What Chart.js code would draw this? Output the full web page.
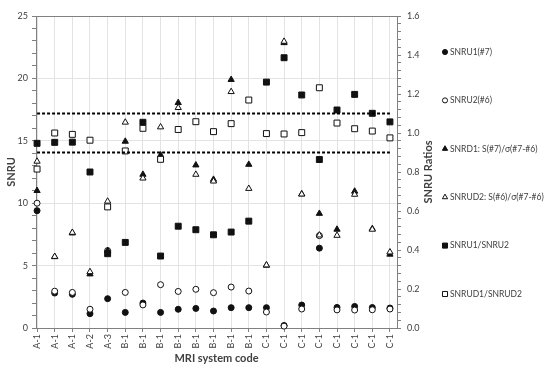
<!DOCTYPE html>
<html>
<head>
<meta charset="utf-8">
<script src="https://cdn.jsdelivr.net/npm/chart.js@4.4.1/dist/chart.umd.min.js"></script>
<style>
  html, body { margin: 0; padding: 0; background: #fff; }
  #wrap { width: 550px; height: 369px; }
</style>
</head>
<body>
<div id="wrap"><canvas id="snruChart" width="550" height="369"></canvas></div>
<script>
const categories = ['A-1', 'A-1', 'A-1', 'A-2', 'A-3',
  'B-1', 'B-1', 'B-1', 'B-1', 'B-1', 'B-1', 'B-1', 'B-1',
  'C-1', 'C-1', 'C-1', 'C-1', 'C-1', 'C-1', 'C-1', 'C-1'];

// left axis (SNRU)
const snru1 = [9.4, 2.8, 2.7, 1.15, 2.35, 1.25, 2.0, 1.25, 1.5, 1.57, 1.36, 1.63, 1.63, 1.63, 0.2, 1.84, 6.4, 1.65, 1.73, 1.64, 1.6];
const snru2 = [10.0, 2.95, 2.85, 1.5, 6.2, 2.85, 1.85, 3.47, 2.93, 3.1, 2.83, 3.28, 2.96, 1.28, 0.15, 1.52, 7.4, 1.45, 1.44, 1.46, 1.52];
const snrd1 = [11.0, 5.7, 7.6, 4.32, 6.2, 14.95, 12.3, 13.85, 18.05, 13.05, 11.9, 19.9, 13.1, 5.02, 22.85, 10.73, 9.17, 7.9, 10.95, 7.95, 5.9];
const snrud2 = [13.35, 5.72, 7.65, 4.5, 10.15, 16.48, 12.0, 16.1, 17.65, 12.3, 11.76, 18.93, 11.17, 5.04, 22.96, 10.72, 7.44, 7.41, 10.7, 7.9, 6.08];

// right axis (ratios)
const ratioU = [0.947, 0.952, 0.953, 0.8, 0.381, 0.439, 1.055, 0.369, 0.522, 0.504, 0.478, 0.492, 0.548, 1.261, 1.386, 1.195, 0.864, 1.118, 1.198, 1.101, 1.057];
const ratioUD = [0.815, 1.0, 0.993, 0.963, 0.621, 0.908, 1.024, 0.865, 1.018, 1.058, 1.007, 1.048, 1.169, 0.997, 0.995, 1.002, 1.232, 1.051, 1.022, 1.01, 0.975];

const refLines = [0.9, 1.1];

const leftTicks = [0, 5, 10, 15, 20, 25];
const rightTicks = ['0.0', '0.2', '0.4', '0.6', '0.8', '1.0', '1.2', '1.4', '1.6'];

const seriesNames = ['SNRU1(#7)', 'SNRU2(#6)', 'SNRD1: S(#7)/σ(#7-#6)', 'SNRUD2: S(#6)/σ(#7-#6)', 'SNRU1/SNRU2', 'SNRUD1/SNRUD2'];

const FONT = 'Lato, "Open Sans", sans-serif';
const TEXT = '#404040';
const INK = '#111';

const toPoints = arr => arr.map((v, i) => ({ x: i, y: v }));

function marker(name, values, style, filled, radius, axis, order) {
  return {
    label: name,
    data: toPoints(values),
    yAxisID: axis,
    showLine: false,
    clip: false,
    pointStyle: style,
    pointRadius: radius,
    pointHoverRadius: radius,
    pointBackgroundColor: filled ? INK : '#fff',
    pointBorderColor: INK,
    pointBorderWidth: 1,
    backgroundColor: filled ? INK : '#fff',
    borderColor: INK,
    borderWidth: 1,
    order: order,
  };
}

const datasets = [
  marker(seriesNames[0], snru1, 'circle', true, 3, 'y', 6),
  marker(seriesNames[1], snru2, 'circle', false, 3, 'y', 5),
  marker(seriesNames[2], snrd1, 'triangle', true, 3.6, 'y', 4),
  marker(seriesNames[3], snrud2, 'triangle', false, 3.6, 'y', 3),
  marker(seriesNames[4], ratioU, 'rect', true, 4.2, 'y2', 2),
  marker(seriesNames[5], ratioUD, 'rect', false, 4.2, 'y2', 1),
];

refLines.forEach(v => {
  datasets.push({
    type: 'line',
    label: 'ref ' + v,
    data: [{ x: 0, y: v }, { x: categories.length - 1, y: v }],
    yAxisID: 'y2',
    borderColor: '#000',
    borderWidth: 2,
    borderDash: [3, 2],
    pointRadius: 0,
    fill: false,
    order: 0,
  });
});

// legend on the right + right axis title (reads bottom to top)
const sideLegend = {
  id: 'sideLegend',
  afterDraw(chart) {
    const ctx = chart.ctx;
    const area = chart.chartArea;
    ctx.save();
    ctx.font = 'bold 11px ' + FONT;
    ctx.fillStyle = TEXT;
    ctx.textAlign = 'center';
    ctx.textBaseline = 'middle';
    ctx.translate(chart.scales.y2.right - 9, (area.top + area.bottom) / 2);
    ctx.rotate(-Math.PI / 2);
    ctx.fillText('SNRU Ratios', 0, 0);
    ctx.restore();

    ctx.save();
    ctx.font = '8.5px ' + FONT;
    ctx.textBaseline = 'middle';
    ctx.textAlign = 'left';
    for (let i = 0; i < seriesNames.length; i++) {
      const ds = chart.data.datasets[i];
      const y = 52 + i * 48.4;
      ctx.fillStyle = ds.pointBackgroundColor;
      ctx.strokeStyle = ds.pointBorderColor;
      ctx.lineWidth = 1;
      Chart.helpers.drawPoint(ctx, {
        pointStyle: ds.pointStyle, radius: ds.pointRadius * 0.85, borderWidth: 1, rotation: 0,
      }, 445, y);
      ctx.fillStyle = TEXT;
      ctx.fillText(seriesNames[i], 450, y);
    }
    ctx.restore();
  },
};

const ctx = document.getElementById('snruChart').getContext('2d');

const snruChart = new Chart(ctx, {
  type: 'scatter',
  data: { datasets },
  plugins: [sideLegend],
  options: {
    responsive: false,
    animation: false,
    devicePixelRatio: 1,
    layout: { padding: { top: 16, right: 113, bottom: 0, left: 0 } },
    plugins: {
      legend: { display: false },
      tooltip: { enabled: false },
    },
    scales: {
      x: {
        type: 'linear',
        min: -0.06,
        max: 20.4,
        afterBuildTicks: scale => {
          scale.ticks = categories.map((c, i) => ({ value: i }));
        },
        afterFit: scale => { scale.height = 41; },
        grid: { color: '#e3e3e3', tickLength: 4, tickColor: '#808080' },
        border: { color: '#808080' },
        ticks: {
          autoSkip: false,
          minRotation: 90,
          maxRotation: 90,
          padding: 2,
          color: TEXT,
          font: { family: FONT, size: 9 },
          callback: (v, i) => categories[i],
        },
        title: {
          display: true,
          text: 'MRI system code',
          color: TEXT,
          padding: { top: 2, bottom: 4 },
          font: { family: FONT, size: 11, weight: 'bold' },
        },
      },
      y: {
        position: 'left',
        min: 0,
        max: 25,
        afterBuildTicks: scale => {
          const t = [];
          for (let v = 0; v <= 25; v++) t.push({ value: v });
          scale.ticks = t;
        },
        afterFit: scale => { scale.width = 36; },
        grid: {
          tickLength: 4,
          tickColor: '#808080',
          color: c => c.tick.value === 25 ? '#808080' : (c.tick.value % 5 === 0 ? '#e3e3e3' : 'rgba(0,0,0,0)'),
        },
        border: { color: '#808080' },
        ticks: {
          autoSkip: false,
          padding: 4,
          color: TEXT,
          font: { family: FONT, size: 9 },
          callback: v => leftTicks.includes(v) ? String(v) : '',
        },
        title: {
          display: true,
          text: 'SNRU',
          color: TEXT,
          padding: { top: 5, bottom: 2 },
          font: { family: FONT, size: 11, weight: 'bold' },
        },
      },
      y2: {
        position: 'right',
        min: 0,
        max: 1.6,
        afterBuildTicks: scale => {
          const t = [];
          for (let i = 0; i <= 40; i++) t.push({ value: i * 0.04 });
          scale.ticks = t;
        },
        afterFit: scale => { scale.width = 40; },
        grid: { drawOnChartArea: false, tickLength: 4, tickColor: '#808080' },
        border: { color: '#808080' },
        ticks: {
          autoSkip: false,
          padding: 6,
          color: TEXT,
          font: { family: FONT, size: 9 },
          callback: (v, i) => i % 5 === 0 ? rightTicks[i / 5] : '',
        },
      },
    },
  },
});
</script>
</body>
</html>
